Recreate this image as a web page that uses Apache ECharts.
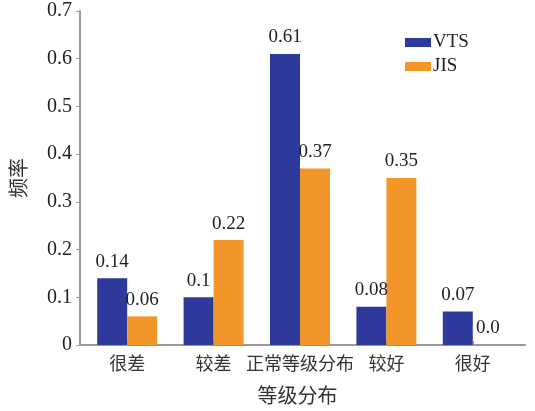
<!DOCTYPE html>
<html><head><meta charset="utf-8">
<script src="https://cdn.jsdelivr.net/npm/echarts@6/dist/echarts.min.js"></script>
<style>html,body{margin:0;padding:0;background:#fff}#c{width:535px;height:411px}</style>
</head><body><div id="c"></div>
<script>
var categories = ['很差', '较差', '正常等级分布', '较好', '很好'];
var vtsValues = [0.14, 0.1, 0.61, 0.08, 0.07];
var jisValues = [0.06, 0.22, 0.37, 0.35, 0.0];
var vtsLabels = ['0.14', '0.1', '0.61', '0.08', '0.07'];
var jisLabels = ['0.06', '0.22', '0.37', '0.35', '0.0'];
var yTicks = ['0', '0.1', '0.2', '0.3', '0.4', '0.5', '0.6', '0.7'];

var serif = '"Liberation Serif", "Times New Roman", serif';
var cjk = '"Noto Sans CJK SC", sans-serif';
var chart = echarts.init(document.getElementById('c'));
chart.setOption({
  animation: false,
  legend: {
    data: ['VTS', 'JIS'], orient: 'vertical', left: 400, top: 28,
    itemWidth: 26, itemHeight: 9, itemGap: 5, icon: 'rect',
    textStyle: { fontFamily: serif, fontSize: 19, color: '#222', padding: [0, 0, 0, -3] }
  },
  grid: [
    { left: 76, right: 10, top: 11, bottom: 66 },
    { left: 84, width: 432, top: 11, bottom: 66 }
  ],
  xAxis: [
    { gridIndex: 0, type: 'value', min: 0, max: 1,
      axisLine: { show: true, lineStyle: { color: '#999', width: 2 } },
      axisTick: { show: false }, axisLabel: { show: false }, splitLine: { show: false },
      name: '等级分布', nameLocation: 'middle', nameGap: 40,
      nameTextStyle: { fontFamily: cjk, fontSize: 20, color: '#333', padding: [0, 10, 0, 0] } },
    { gridIndex: 1, type: 'category', data: categories,
      axisLine: { show: false },
      axisTick: { show: true, alignWithLabel: true, inside: true, length: 4, lineStyle: { color: '#999' } },
      axisLabel: { fontFamily: cjk, fontSize: 18, color: '#333', margin: 9, interval: 0 } }
  ],
  yAxis: [
    { gridIndex: 0, type: 'value', min: 0, max: 0.7, interval: 0.1,
      axisLine: { show: true, lineStyle: { color: '#999', width: 2 } },
      axisTick: { show: true, length: 4, lineStyle: { color: '#999' } },
      splitLine: { show: false },
      axisLabel: { fontFamily: serif, fontSize: 20, color: '#222', margin: 8,
        formatter: function (v) { return yTicks[Math.round(v * 10)]; } },
      name: '频率', nameLocation: 'middle', nameGap: 52, nameRotate: 90,
      nameTextStyle: { fontFamily: cjk, fontSize: 20, color: '#333' } },
    { gridIndex: 1, type: 'value', min: 0, max: 0.7, interval: 0.1, show: false }
  ],
  series: [
    { name: 'VTS', type: 'bar', xAxisIndex: 1, yAxisIndex: 1, data: vtsValues,
      barWidth: 30, barGap: '0%', itemStyle: { color: '#2E3A9B' },
      label: { show: true, position: 'top', distance: 7, fontFamily: serif, fontSize: 19, color: '#222',
        formatter: function (p) { return vtsLabels[p.dataIndex]; } } },
    { name: 'JIS', type: 'bar', xAxisIndex: 1, yAxisIndex: 1, data: jisValues,
      barWidth: 30, barGap: '0%', itemStyle: { color: '#F3962A' },
      label: { show: true, position: 'top', distance: 7, fontFamily: serif, fontSize: 19, color: '#222',
        formatter: function (p) { return jisLabels[p.dataIndex]; } } }
  ]
});
</script></body></html>
